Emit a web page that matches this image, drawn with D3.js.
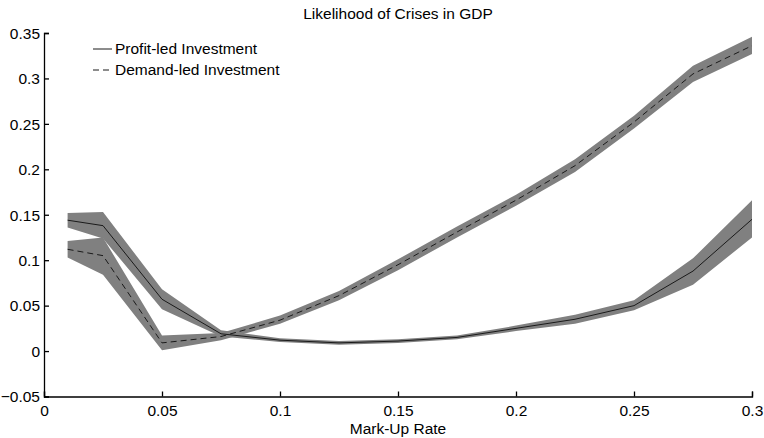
<!DOCTYPE html>
<html><head><meta charset="utf-8">
<script src="https://cdn.jsdelivr.net/npm/d3@7"></script>
<style>body{margin:0;background:#fff}svg{display:block}text{font-family:"Liberation Sans",Arial,sans-serif;fill:#000}</style>
</head><body>
<script>
const markUp = [0.01, 0.025, 0.05, 0.075, 0.1, 0.125, 0.15, 0.175, 0.2, 0.225, 0.25, 0.275, 0.3];
const profitMean  = [0.144, 0.138, 0.057, 0.019, 0.012, 0.009, 0.011, 0.015, 0.025, 0.035, 0.050, 0.088, 0.145];
const profitLower = [0.136, 0.124, 0.046, 0.016, 0.010, 0.007, 0.009, 0.013, 0.022, 0.030, 0.045, 0.073, 0.125];
const profitUpper = [0.152, 0.153, 0.068, 0.023, 0.014, 0.011, 0.013, 0.017, 0.028, 0.040, 0.056, 0.102, 0.166];
const demandMean  = [0.112, 0.105, 0.009, 0.016, 0.034, 0.061, 0.095, 0.131, 0.166, 0.204, 0.252, 0.305, 0.336];
const demandLower = [0.103, 0.084, 0.001, 0.012, 0.030, 0.056, 0.089, 0.125, 0.160, 0.197, 0.245, 0.296, 0.327];
const demandUpper = [0.121, 0.125, 0.017, 0.020, 0.039, 0.066, 0.101, 0.137, 0.172, 0.211, 0.259, 0.314, 0.346];
const xTicks = [0, 0.05, 0.1, 0.15, 0.2, 0.25, 0.3];
const yTicks = [-0.05, 0, 0.05, 0.1, 0.15, 0.2, 0.25, 0.3, 0.35];
const seriesNames = ["Profit-led Investment", "Demand-led Investment"];
const titleText = "Likelihood of Crises in GDP";
const xLabelText = "Mark-Up Rate";

const W = 764, H = 438;
const FS = 15.5;
const m = {left: 44, right: 12, top: 33, bottom: 41.5};
const svg = d3.select("body").append("svg").attr("width", W).attr("height", H);
const x = d3.scaleLinear().domain([0, 0.3]).range([m.left, W - m.right]);
const y = d3.scaleLinear().domain([-0.05, 0.35]).range([H - m.bottom, m.top]);

const series = [
  {mean: profitMean, lo: profitLower, hi: profitUpper, dash: null},
  {mean: demandMean, lo: demandLower, hi: demandUpper, dash: "6,4"}
];
const area = d3.area().x((d) => x(d.x)).y0((d) => y(d.lo)).y1((d) => y(d.hi));
const line = d3.line().x((d) => x(d.x)).y((d) => y(d.v));

series.forEach((s) => {
  const pts = markUp.map((v, i) => ({x: v, lo: s.lo[i], hi: s.hi[i]}));
  svg.append("path").attr("d", area(pts)).attr("fill", "#808080").attr("stroke", "none");
});
series.forEach((s) => {
  const pts = markUp.map((v, i) => ({x: v, v: s.mean[i]}));
  svg.append("path").attr("d", line(pts)).attr("fill", "none")
    .attr("stroke", "#1a1a1a").attr("stroke-width", 1)
    .attr("stroke-dasharray", s.dash);
});

// axes
const xAxis = svg.append("g").attr("transform", `translate(0,${H - m.bottom})`)
  .call(d3.axisBottom(x).tickValues(xTicks).tickSize(-5).tickPadding(8).tickFormat(d3.format("~g")));
const yAxis = svg.append("g").attr("transform", `translate(${m.left},0)`)
  .call(d3.axisLeft(y).tickValues(yTicks).tickSize(-5).tickPadding(4).tickFormat(d3.format("~g")));
[xAxis, yAxis].forEach((g) => {
  g.select(".domain").attr("stroke", "#000").attr("stroke-width", 1.3);
  g.selectAll(".tick line").attr("stroke", "#000").attr("stroke-width", 1.3);
  g.selectAll("text").attr("font-size", FS).attr("font-family", "Liberation Sans, Arial, sans-serif");
});
xAxis.selectAll("text").attr("dy", "0.71em");
yAxis.selectAll("text").attr("dy", "0.34em");

// title and label
svg.append("text").attr("x", 398).attr("y", 19).attr("text-anchor", "middle")
  .attr("font-size", FS).text(titleText);
svg.append("text").attr("x", 398).attr("y", 434).attr("text-anchor", "middle")
  .attr("font-size", FS).text(xLabelText);

// legend
const leg = svg.append("g");
seriesNames.forEach((n, i) => {
  const yy = 49 + i * 21;
  leg.append("line").attr("x1", 93).attr("x2", 112).attr("y1", yy).attr("y2", yy)
    .attr("stroke", "#1a1a1a").attr("stroke-width", 1)
    .attr("stroke-dasharray", series[i].dash);
  leg.append("text").attr("x", 115).attr("y", yy).attr("dy", "0.35em")
    .attr("font-size", FS).text(n);
});
</script>
</body></html>
